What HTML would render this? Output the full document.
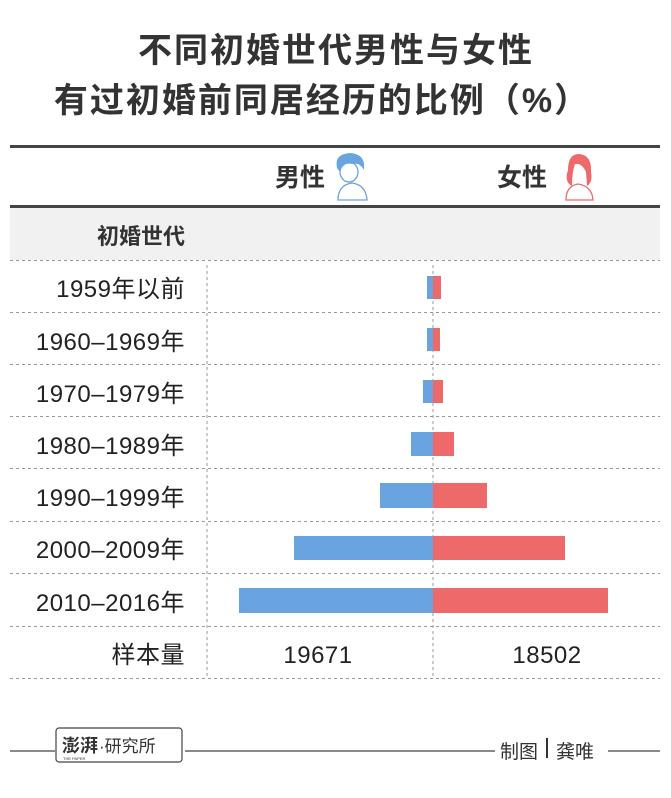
<!DOCTYPE html>
<html><head><meta charset="utf-8"><style>
body{margin:0;background:#fff;}
svg text{font-family:"Liberation Sans","Noto Sans CJK SC",sans-serif;}
</style></head><body>
<svg width="671" height="793" viewBox="0 0 671 793" xmlns="http://www.w3.org/2000/svg">
<rect width="671" height="793" fill="#fff"/>
<text x="336" y="62" font-size="34" font-weight="bold" fill="#333" text-anchor="middle" letter-spacing="2">不同初婚世代男性与女性</text>
<text x="322" y="112" font-size="34" font-weight="bold" fill="#333" text-anchor="middle" letter-spacing="2">有过初婚前同居经历的比例（%）</text>
<rect x="10" y="145" width="650" height="3" fill="#444"/>
<rect x="10" y="205" width="650" height="3" fill="#444"/>
<rect x="10" y="208" width="650" height="52" fill="#f1f1f1"/>
<text x="275" y="186" font-size="25" font-weight="bold" fill="#333">男性</text>
<text x="497" y="186" font-size="25" font-weight="bold" fill="#333">女性</text>
<g fill="none" stroke="#69a3e0" stroke-width="1.3">
<path d="M338,200 Q338,185 352,183 Q366,185 367,200 Z"/>
<ellipse cx="349" cy="172" rx="9" ry="10"/>
</g>
<path d="M337,168 Q334,154 350,153 Q366,154 364,170 Q360,162 352,164 Q343,162 340,172 Z" fill="#69a3e0"/>
<g fill="none" stroke="#ee6a6a" stroke-width="1.3">
<path d="M566,200 Q566,186 578,184 Q592,186 593,200 Z"/>
</g>
<path d="M568,170 Q568,154 579,154 Q592,155 591,172 Q593,182 587,186 L586,172 Q582,163 575,164 Q572,172 572,186 Q564,182 568,170 Z" fill="#ee6a6a"/>
<text x="185" y="244" font-size="22" font-weight="bold" fill="#333" text-anchor="end">初婚世代</text>
<g stroke="#999" stroke-width="1" stroke-dasharray="3,3">
<line x1="10" y1="260.5" x2="660" y2="260.5"/>
<line x1="10" y1="312.5" x2="660" y2="312.5"/>
<line x1="10" y1="364.5" x2="660" y2="364.5"/>
<line x1="10" y1="416.5" x2="660" y2="416.5"/>
<line x1="10" y1="468.5" x2="660" y2="468.5"/>
<line x1="10" y1="521.5" x2="660" y2="521.5"/>
<line x1="10" y1="573.5" x2="660" y2="573.5"/>
<line x1="10" y1="626.5" x2="660" y2="626.5"/>
<line x1="10" y1="678.5" x2="660" y2="678.5"/>
<line x1="207" y1="265" x2="207" y2="678"/>
<line x1="433" y1="265" x2="433" y2="678"/>
</g>
<g fill="#69a3e0">
<rect x="427" y="276" width="6" height="23"/>
<rect x="427" y="328" width="6" height="23"/>
<rect x="423" y="380" width="10" height="23"/>
<rect x="411" y="432" width="22" height="24"/>
<rect x="380" y="483" width="53" height="25"/>
<rect x="294" y="536" width="139" height="24"/>
<rect x="239" y="588" width="194" height="25"/>
</g>
<g fill="#ee6a6a">
<rect x="433" y="276" width="8" height="23"/>
<rect x="433" y="328" width="7" height="23"/>
<rect x="433" y="380" width="10" height="23"/>
<rect x="433" y="432" width="21" height="24"/>
<rect x="433" y="483" width="54" height="25"/>
<rect x="433" y="536" width="132" height="24"/>
<rect x="433" y="588" width="175" height="25"/>
</g>
<g font-size="24" fill="#222" text-anchor="end" letter-spacing="0.5">
<text x="185" y="297">1959年以前</text>
<text x="185" y="350">1960–1969年</text>
<text x="185" y="402">1970–1979年</text>
<text x="185" y="454">1980–1989年</text>
<text x="185" y="506">1990–1999年</text>
<text x="185" y="558">2000–2009年</text>
<text x="185" y="611">2010–2016年</text>
<text x="185" y="663">样本量</text>
</g>
<text x="318" y="663" font-size="24" fill="#222" text-anchor="middle" letter-spacing="0.5">19671</text>
<text x="547" y="663" font-size="24" fill="#222" text-anchor="middle" letter-spacing="0.5">18502</text>
<g stroke="#444" stroke-width="1.2">
<line x1="10" y1="751" x2="55" y2="751"/>
<line x1="185" y1="751" x2="495" y2="751"/>
<line x1="608" y1="751" x2="660" y2="751"/>
</g>
<rect x="56" y="728" width="126" height="34" rx="3" fill="none" stroke="#444" stroke-width="1.2"/>
<text x="62" y="752" font-size="18" font-weight="bold" fill="#333">澎湃</text>
<text x="99" y="752" font-size="17" fill="#333">·研究所</text>
<text x="63" y="760" font-size="4" fill="#333">THE PAPER</text>
<text x="500" y="758" font-size="19" fill="#333">制图</text>
<rect x="546" y="738" width="2" height="20" fill="#333"/>
<text x="556" y="758" font-size="19" fill="#333">龚唯</text>
</svg>
</body></html>
